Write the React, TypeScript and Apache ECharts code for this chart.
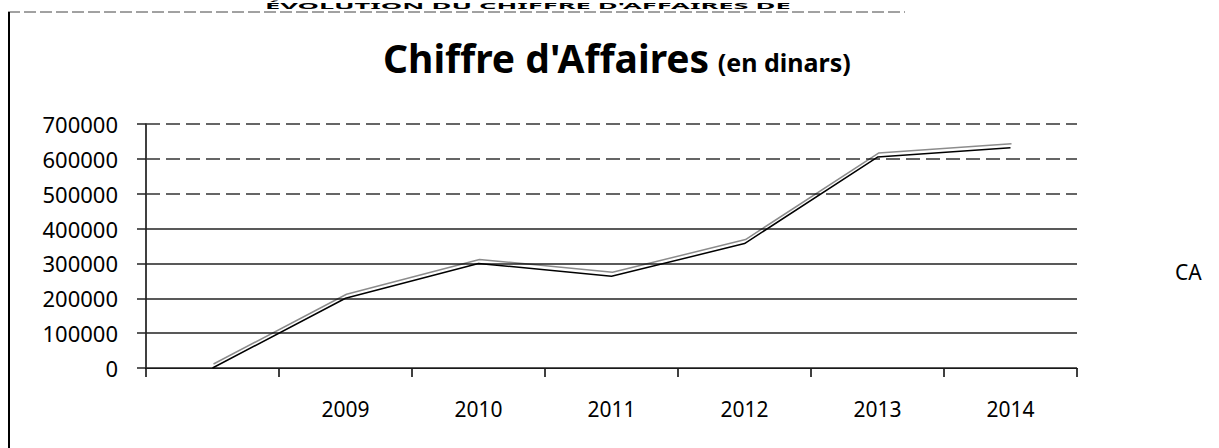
import React, { useEffect, useRef } from "react";
import * as echarts from "echarts";

const categories = ["", "2009", "2010", "2011", "2012", "2013", "2014"];
const caValues = [0, 200000, 300000, 263000, 357000, 605000, 632000];
const gridValues = [0, 100000, 200000, 300000, 400000, 500000, 600000, 700000];
const dashedGrid = [500000, 600000, 700000];
const seriesName = "CA";
const mainTitle = "Chiffre d'Affaires";
const subTitle = "(en dinars)";
const headerText = "ÉVOLUTION DU CHIFFRE D'AFFAIRES DE";

const FONT = "'Noto Sans', 'Open Sans', sans-serif";

export default function App() {
  const ref = useRef<HTMLDivElement>(null);
  useEffect(() => {
    if (!ref.current) return;
    const chart = echarts.init(ref.current, undefined, { renderer: "svg" });
    chart.setOption({
      animation: false,
      backgroundColor: "#ffffff",
      textStyle: { fontFamily: FONT },
      title: {
        text: `{a|${mainTitle}} {b|${subTitle}}`,
        left: 378,
        top: 33,
        textStyle: {
          rich: {
            a: { fontFamily: FONT, fontSize: 39, fontWeight: "bold", color: "#000", verticalAlign: "bottom" },
            b: { fontFamily: FONT, fontSize: 25, fontWeight: "bold", color: "#000", verticalAlign: "bottom", padding: [0, 0, 3, 4] },
          },
        },
      },
      legend: {
        data: [seriesName],
        icon: "none",
        itemWidth: 0,
        left: 1165,
        top: 256,
        textStyle: { fontFamily: FONT, fontSize: 21, color: "#000" },
      },
      grid: { left: 146, right: 142, top: 124, bottom: 80, containLabel: false },
      xAxis: {
        type: "category",
        data: categories,
        boundaryGap: true,
        axisLine: { show: true, lineStyle: { color: "#000", width: 1 } },
        axisTick: { show: true, length: 9, lineStyle: { color: "#000", width: 1.5 } },
        axisLabel: { margin: 30, fontFamily: FONT, fontSize: 21, color: "#000" },
        splitLine: { show: false },
      },
      yAxis: {
        type: "value",
        min: 0,
        max: 700000,
        interval: 100000,
        axisLine: { show: true, lineStyle: { color: "#000", width: 1.5 } },
        axisTick: { show: true, length: 9, lineStyle: { color: "#222", width: 1.5 } },
        axisLabel: {
          margin: 28,
          fontFamily: FONT,
          fontSize: 22,
          color: "#000",
          formatter: (v: number) => String(v),
        },
        splitLine: { show: false },
      },
      series: [
        {
          name: seriesName,
          type: "line",
          data: caValues,
          symbol: "none",
          lineStyle: {
            color: "#000",
            width: 1.5,
            shadowColor: "rgba(0,0,0,0.45)",
            shadowOffsetY: -4,
            shadowOffsetX: 1,
            shadowBlur: 0,
          },
          markLine: {
            silent: true,
            symbol: "none",
            label: { show: false },
            data: gridValues.map((v) => ({
              yAxis: v,
              lineStyle: {
                color: dashedGrid.includes(v) ? "#333" : "#222",
                width: 1.5,
                type: dashedGrid.includes(v) ? [14, 6] : "solid",
              },
            })),
            z: 1,
          },
          z: 5,
        },
      ],
      graphic: [
        {
          type: "text",
          x: 265,
          y: 2,
          scaleX: 3.4,
          style: {
            text: headerText,
            fontFamily: FONT,
            fontSize: 8,
            fontWeight: "bold",
            fill: "#000",
            verticalAlign: "top",
          },
        },
        {
          type: "line",
          shape: { x1: 8, y1: 12, x2: 905, y2: 12 },
          style: { stroke: "#444", lineWidth: 1, lineDash: [12, 4] },
        },
        {
          type: "line",
          shape: { x1: 9, y1: 12, x2: 9, y2: 448 },
          style: { stroke: "#000", lineWidth: 2 },
        },
      ],
    });
    return () => chart.dispose();
  }, []);
  return <div ref={ref} style={{ position: "fixed", left: 0, top: 0, width: 1219, height: 448 }} />;
}
